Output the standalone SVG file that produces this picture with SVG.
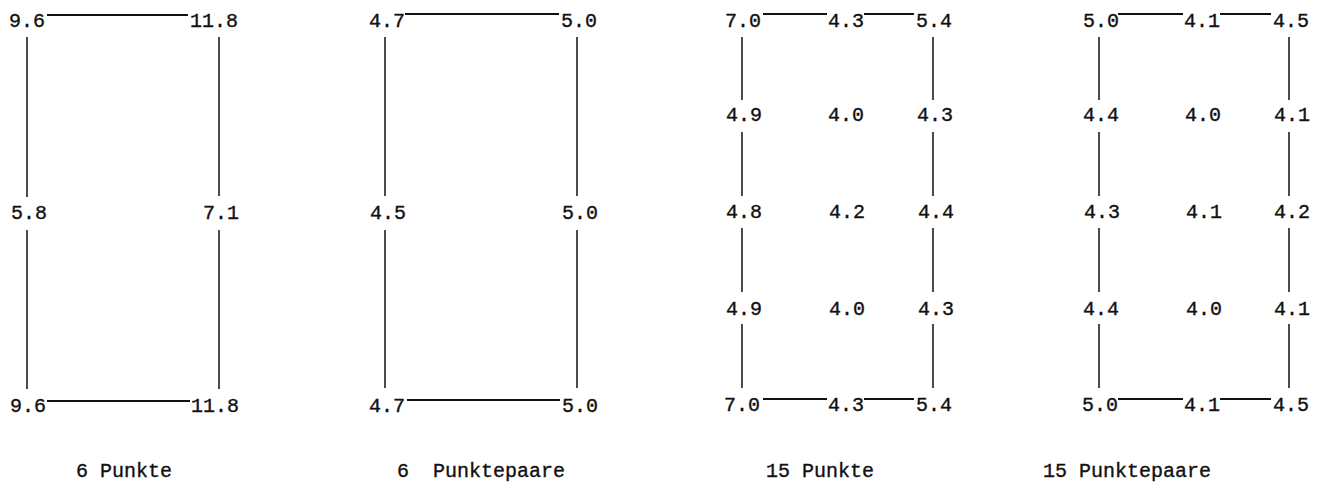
<svg xmlns="http://www.w3.org/2000/svg" width="1321" height="483" viewBox="0 0 1321 483">
<style>
text{font-family:"Liberation Mono","DejaVu Sans Mono",monospace;font-size:20px;fill:#111;stroke:#111;stroke-width:0.35;white-space:pre}
.v{stroke:#111;stroke-width:1.5;fill:none}
.h{stroke:#111;stroke-width:2;fill:none}
</style>
<rect width="1321" height="483" fill="#fff"/>
<g id="connectors">
<line class="h" x1="47" y1="15" x2="188" y2="15"/>
<line class="h" x1="47" y1="401" x2="190" y2="401"/>
<line class="v" x1="27" y1="37" x2="27" y2="197"/>
<line class="v" x1="27" y1="230" x2="27" y2="389"/>
<line class="v" x1="219" y1="37" x2="219" y2="196"/>
<line class="v" x1="219" y1="230" x2="219" y2="389"/>
<line class="h" x1="405" y1="14" x2="559" y2="14"/>
<line class="h" x1="407" y1="400" x2="560" y2="400"/>
<line class="v" x1="385" y1="37" x2="385" y2="196"/>
<line class="v" x1="385" y1="230" x2="385" y2="388"/>
<line class="v" x1="577" y1="37" x2="577" y2="196"/>
<line class="v" x1="577" y1="230" x2="577" y2="388"/>
<line class="h" x1="763" y1="14" x2="827" y2="14"/>
<line class="h" x1="864" y1="14" x2="914" y2="14"/>
<line class="h" x1="763" y1="399" x2="827" y2="399"/>
<line class="h" x1="864" y1="399" x2="914" y2="399"/>
<line class="v" x1="742" y1="37" x2="742" y2="100"/>
<line class="v" x1="742" y1="132" x2="742" y2="196"/>
<line class="v" x1="742" y1="228" x2="742" y2="292"/>
<line class="v" x1="742" y1="324" x2="742" y2="388"/>
<line class="v" x1="933" y1="37" x2="933" y2="100"/>
<line class="v" x1="933" y1="132" x2="933" y2="196"/>
<line class="v" x1="933" y1="228" x2="933" y2="292"/>
<line class="v" x1="933" y1="324" x2="933" y2="388"/>
<line class="h" x1="1118" y1="14" x2="1183" y2="14"/>
<line class="h" x1="1220" y1="14" x2="1271" y2="14"/>
<line class="h" x1="1118" y1="399" x2="1183" y2="399"/>
<line class="h" x1="1220" y1="399" x2="1271" y2="399"/>
<line class="v" x1="1099" y1="37" x2="1099" y2="100"/>
<line class="v" x1="1099" y1="132" x2="1099" y2="196"/>
<line class="v" x1="1099" y1="228" x2="1099" y2="292"/>
<line class="v" x1="1099" y1="324" x2="1099" y2="388"/>
<line class="v" x1="1289" y1="37" x2="1289" y2="100"/>
<line class="v" x1="1289" y1="132" x2="1289" y2="196"/>
<line class="v" x1="1289" y1="228" x2="1289" y2="292"/>
<line class="v" x1="1289" y1="324" x2="1289" y2="388"/>
</g>
<g id="p1-tl"><text x="9" y="27">9.6</text></g>
<g id="p1-tr"><text x="190" y="27">11.8</text></g>
<g id="p1-ml"><text x="11" y="219">5.8</text></g>
<g id="p1-mr"><text x="203" y="219">7.1</text></g>
<g id="p1-bl"><text x="10" y="412">9.6</text></g>
<g id="p1-br"><text x="191" y="412">11.8</text></g>
<g id="p1-label"><text x="76" y="477">6 Punkte</text></g>
<g id="p2-tl"><text x="369" y="27">4.7</text></g>
<g id="p2-tr"><text x="561" y="27">5.0</text></g>
<g id="p2-ml"><text x="370" y="219">4.5</text></g>
<g id="p2-mr"><text x="562" y="219">5.0</text></g>
<g id="p2-bl"><text x="369" y="412">4.7</text></g>
<g id="p2-br"><text x="562" y="412">5.0</text></g>
<g id="p2-label"><text x="397" y="477">6  Punktepaare</text></g>
<g id="p3-r1"><text x="725" y="27">7.0</text><text x="828" y="27">4.3</text><text x="916" y="27">5.4</text></g>
<g id="p3-r2"><text x="726" y="121">4.9</text><text x="828" y="121">4.0</text><text x="917" y="121">4.3</text></g>
<g id="p3-r3"><text x="726" y="218">4.8</text><text x="829" y="218">4.2</text><text x="918" y="218">4.4</text></g>
<g id="p3-r4"><text x="726" y="315">4.9</text><text x="829" y="315">4.0</text><text x="918" y="315">4.3</text></g>
<g id="p3-r5"><text x="724" y="411">7.0</text><text x="828" y="411">4.3</text><text x="916" y="411">5.4</text></g>
<g id="p3-label"><text x="766" y="477">15 Punkte</text></g>
<g id="p4-r1"><text x="1083" y="27">5.0</text><text x="1184" y="27">4.1</text><text x="1273" y="27">4.5</text></g>
<g id="p4-r2"><text x="1083" y="121">4.4</text><text x="1185" y="121">4.0</text><text x="1274" y="121">4.1</text></g>
<g id="p4-r3"><text x="1084" y="218">4.3</text><text x="1186" y="218">4.1</text><text x="1274" y="218">4.2</text></g>
<g id="p4-r4"><text x="1083" y="315">4.4</text><text x="1186" y="315">4.0</text><text x="1274" y="315">4.1</text></g>
<g id="p4-r5"><text x="1082" y="411">5.0</text><text x="1184" y="411">4.1</text><text x="1273" y="411">4.5</text></g>
<g id="p4-label"><text x="1043" y="477">15 Punktepaare</text></g>
</svg>
